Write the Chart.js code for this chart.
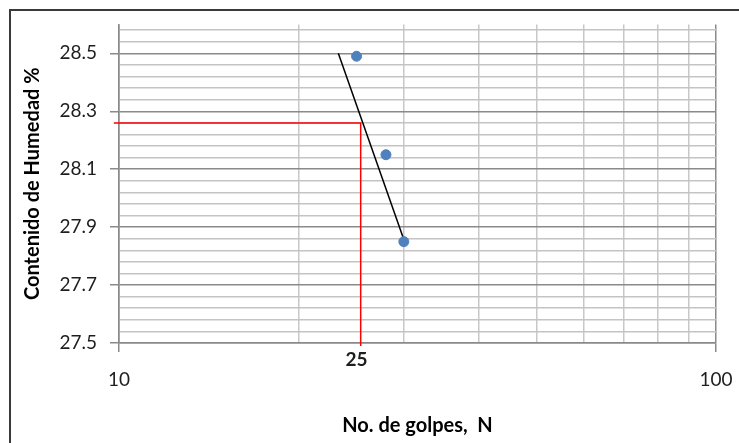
<!DOCTYPE html>
<html>
<head>
<meta charset="utf-8">
<script src="https://cdn.jsdelivr.net/npm/chart.js@4"></script>
<style>
  html, body { margin: 0; padding: 0; background: #fff; overflow: hidden; }
  #wrap { position: relative; width: 739px; height: 443px; }
  #frame { position: absolute; left: 9px; top: 9px; width: 800px; height: 500px;
           border-top: 2px solid #3a3a3a; border-left: 2px solid #3a3a3a; }
  #c { position: absolute; left: 0; top: 0; }
</style>
</head>
<body>
<div id="wrap">
  <div id="frame"></div>
  <canvas id="c" width="739" height="443"></canvas>
</div>
<script>
// Limit-de-liquidez test: blows vs. moisture content
const golpes = [25, 28, 30];
const humedad = [28.49, 28.15, 27.85];

// Flow line drawn through the test points
const flowLineN = [23.3, 30.2];
const flowLineW = [28.5, 27.84];

// Reading at 25 blows
const lecturaN = 25.4;
const lecturaW = 28.26;
const lecturaDesdeN = 9.8;
const lecturaHastaW = 27.49;

// Axes
const xMin = 10, xMax = 100;
const xGridTicks = [10, 20, 30, 40, 50, 60, 70, 80, 90, 100];
const xLabelTicks = [10, 25, 100];
const yMin = 27.5, yMax = 28.6;
const yMajorTicks = [27.5, 27.7, 27.9, 28.1, 28.3, 28.5];
const yMinorStep = 0.04;

const near = (a, b) => Math.abs(a - b) < 1e-6;
const isYMajor = v => yMajorTicks.some(m => near(m, v));

const yTickValues = [];
for (let k = 0; ; k++) {
  const v = Math.round((yMin + k * yMinorStep) * 1000) / 1000;
  if (v >= yMax - 1e-6) break;
  yTickValues.push(v);
}
const xTickValues = [...xGridTicks, ...xLabelTicks.filter(v => !xGridTicks.includes(v))].sort((a, b) => a - b);

const FONT = 'Lato, "Open Sans", sans-serif';
const TXT = '#1e1e1e';

new Chart(document.getElementById('c'), {
  type: 'scatter',
  data: {
    datasets: [
      {
        label: 'Ensayos',
        data: golpes.map((n, i) => ({ x: n, y: humedad[i] })),
        backgroundColor: '#4F81BD',
        borderColor: '#4F81BD',
        pointRadius: 5,
        pointHoverRadius: 5,
        showLine: false,
        order: 0
      },
      {
        label: 'Curva de flujo',
        data: flowLineN.map((n, i) => ({ x: n, y: flowLineW[i] })),
        showLine: true,
        borderColor: '#000000',
        borderWidth: 1.5,
        pointRadius: 0,
        order: 1
      },
      {
        label: 'Lectura',
        data: [
          { x: lecturaDesdeN, y: lecturaW },
          { x: lecturaN, y: lecturaW },
          { x: lecturaN, y: lecturaHastaW }
        ],
        showLine: true,
        borderColor: '#FF0000',
        borderWidth: 1.5,
        pointRadius: 0,
        clip: false,
        order: 2
      }
    ]
  },
  options: {
    responsive: false,
    animation: false,
    devicePixelRatio: 1,
    layout: { padding: { left: 0, top: 23.5, right: 23, bottom: 0 } },
    plugins: { legend: { display: false }, tooltip: { enabled: false } },
    scales: {
      x: {
        type: 'logarithmic',
        min: xMin,
        max: xMax,
        afterBuildTicks: s => { s.ticks = xTickValues.map(v => ({ value: v })); },
        afterFit: s => { s.height = 100; },
        border: { color: '#8a8a8a', width: 1.5 },
        grid: {
          lineWidth: 1.5,
          drawTicks: true,
          tickLength: 9,
          color: c => {
            const v = c.tick.value;
            if (near(v, 25)) return 'rgba(0,0,0,0)';
            return (near(v, xMin) || near(v, xMax)) ? '#8a8a8a' : '#c8c8c8';
          },
          tickColor: c => (near(c.tick.value, xMin) || near(c.tick.value, xMax)) ? '#8a8a8a' : 'rgba(0,0,0,0)'
        },
        ticks: {
          autoSkip: false,
          maxRotation: 0,
          padding: -2,
          color: TXT,
          font: c => (c.tick && near(c.tick.value, 25))
            ? { family: FONT, size: 19, weight: 'bold', lineHeight: 1.05 }
            : { family: FONT, size: 19, weight: 'normal', lineHeight: 1.05 },
          callback: v => {
            if (!xLabelTicks.some(t => near(t, v))) return '';
            return near(v, 25) ? String(v) : ['', String(v)];
          }
        },
        title: {
          display: true,
          text: 'No. de golpes,  N',
          color: '#000',
          font: { family: FONT, size: 20, weight: 'bold', lineHeight: 1.2 },
          padding: { top: 0, bottom: 5 }
        }
      },
      y: {
        type: 'linear',
        min: yMin,
        max: yMax,
        afterBuildTicks: s => { s.ticks = yTickValues.map(v => ({ value: v })); },
        afterFit: s => { s.width = 119; },
        border: { color: '#8a8a8a', width: 1.5 },
        grid: {
          lineWidth: 1.5,
          drawTicks: true,
          tickLength: 9,
          color: c => isYMajor(c.tick.value) ? '#8a8a8a' : '#c4c4c4',
          tickColor: c => isYMajor(c.tick.value) ? '#8a8a8a' : 'rgba(0,0,0,0)'
        },
        ticks: {
          autoSkip: false,
          padding: 13,
          color: TXT,
          font: { family: FONT, size: 19 },
          callback: v => isYMajor(v) ? v.toFixed(1) : ''
        },
        title: {
          display: true,
          text: 'Contenido de Humedad %',
          color: '#000',
          font: { family: FONT, size: 20, weight: 'bold', lineHeight: 1.2 },
          padding: { top: 21, bottom: 0 }
        }
      }
    }
  }
});
</script>
</body>
</html>
